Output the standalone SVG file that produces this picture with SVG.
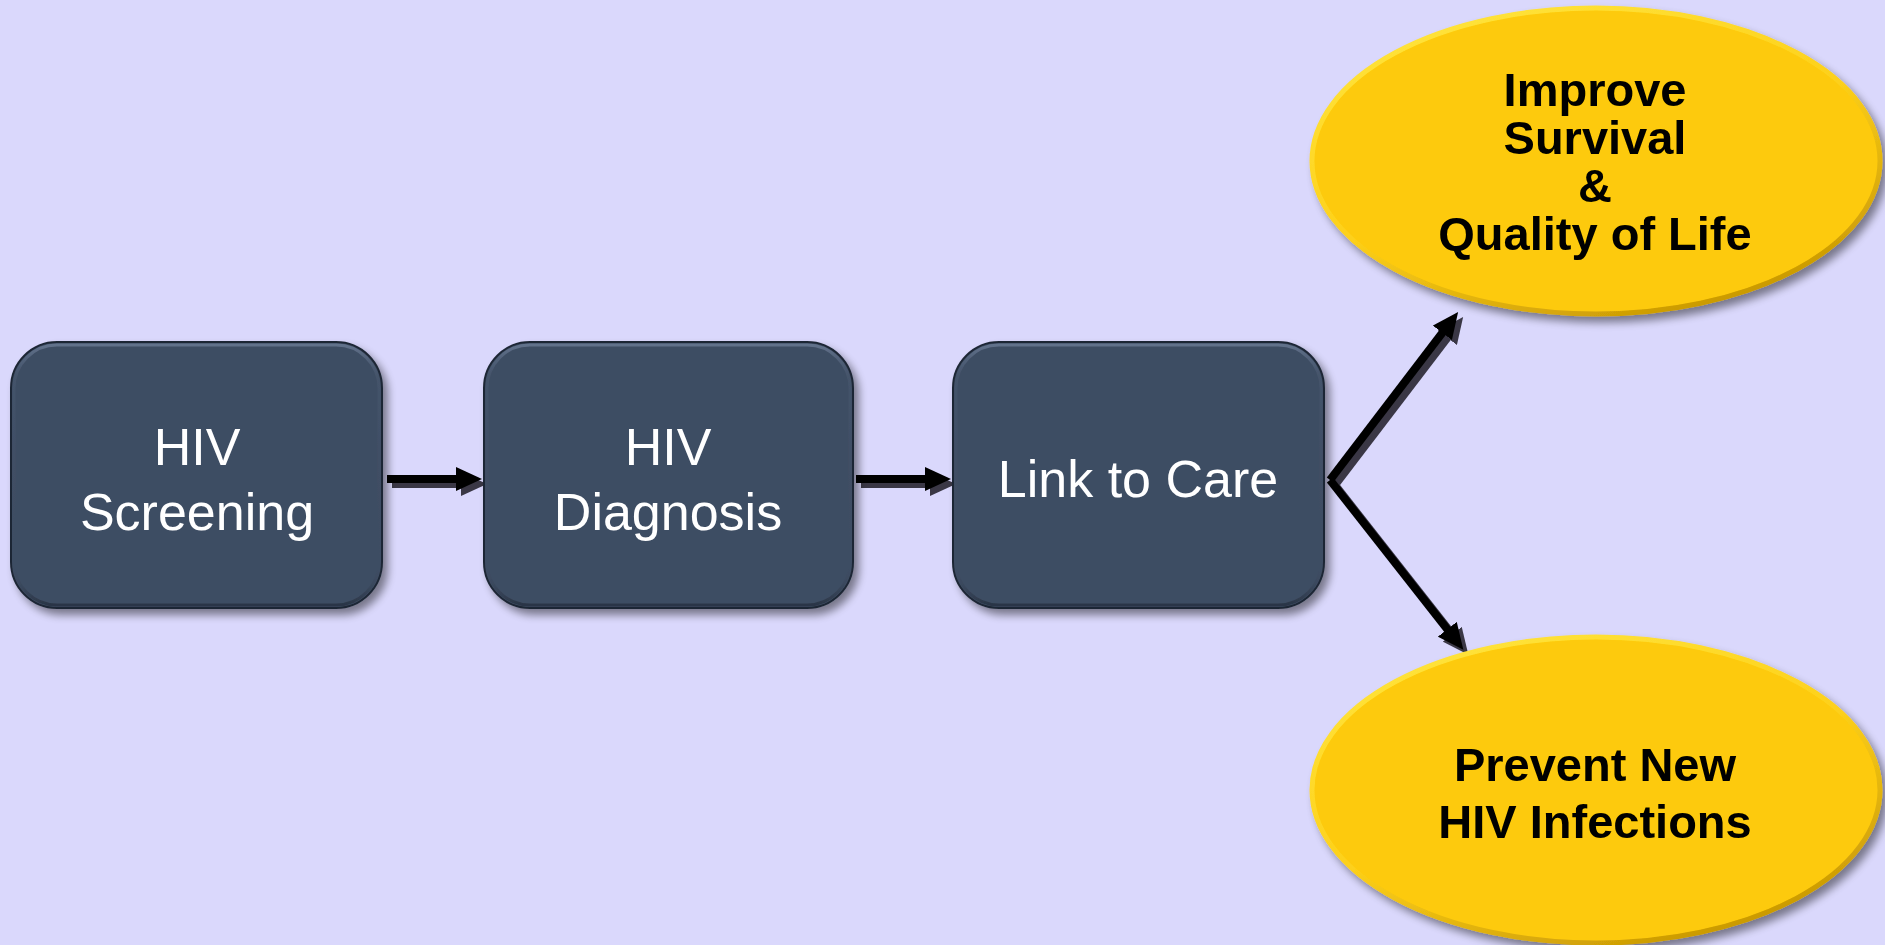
<svg xmlns="http://www.w3.org/2000/svg" width="1885" height="945" viewBox="0 0 1885 945">
<defs>
<style>
.box{fill:#3e4d63;stroke:#1f2836;stroke-width:2}
.bevel{fill:none;stroke:url(#bevelG);stroke-width:3}
.boxtxt{font-family:"Liberation Sans",Arial,sans-serif;font-size:52px;fill:#ffffff;text-anchor:middle}
.ell{fill:#fdca08;stroke:url(#ellG);stroke-width:5}
.elltxt{font-family:"Liberation Sans",Arial,sans-serif;font-size:47px;font-weight:bold;fill:#000000;text-anchor:middle}
.conn{stroke:#000000;stroke-width:8;fill:none;marker-end:url(#ah)}
.connsh{stroke:#3a3745;stroke-width:8;fill:none;marker-end:url(#ahs)}
</style>
<linearGradient id="bevelG" x1="0" y1="0" x2="0" y2="1">
<stop offset="0" stop-color="#62728b"/>
<stop offset="0.12" stop-color="#4a5a72" stop-opacity="0.5"/>
<stop offset="0.85" stop-color="#3e4d63" stop-opacity="0"/>
<stop offset="1" stop-color="#2a3546"/>
</linearGradient>
<linearGradient id="ellG" x1="0.2" y1="0" x2="0.8" y2="1">
<stop offset="0" stop-color="#ffe43c"/>
<stop offset="0.5" stop-color="#fdd01a"/>
<stop offset="1" stop-color="#c39200"/>
</linearGradient>
<filter id="sh" x="-10%" y="-10%" width="130%" height="130%">
<feGaussianBlur in="SourceAlpha" stdDeviation="4"/>
<feOffset dx="5" dy="6"/>
<feComponentTransfer><feFuncA type="linear" slope="0.45"/></feComponentTransfer>
<feMerge><feMergeNode/><feMergeNode in="SourceGraphic"/></feMerge>
</filter>
<marker id="ah" markerUnits="userSpaceOnUse" markerWidth="26" markerHeight="24" refX="6" refY="12" orient="auto">
<path d="M0,0 L26,12 L0,24 z" fill="#000000"/>
</marker>
<marker id="ahs" markerUnits="userSpaceOnUse" markerWidth="26" markerHeight="24" refX="6" refY="12" orient="auto">
<path d="M0,0 L26,12 L0,24 z" fill="#3a3745"/>
</marker>
</defs>
<rect x="0" y="0" width="1885" height="945" fill="#dad8fc"/>

<g id="connectors">
<g transform="translate(5,5)">
<line class="connsh" x1="387" y1="479" x2="462" y2="479"/>
<line class="connsh" x1="856" y1="479" x2="931" y2="479"/>
<line class="connsh" x1="1330" y1="480" x2="1446" y2="328"/>
<line class="connsh" x1="1330" y1="480" x2="1451" y2="634"/>
</g>
<line class="conn" x1="387" y1="479" x2="462" y2="479"/>
<line class="conn" x1="856" y1="479" x2="931" y2="479"/>
<line class="conn" x1="1330" y1="480" x2="1446" y2="328"/>
<line class="conn" x1="1330" y1="480" x2="1451" y2="634"/>
</g>

<g id="node-screening" filter="url(#sh)">
<rect class="box" x="11" y="342" width="371" height="266" rx="46"/>
<rect class="bevel" x="14" y="345" width="365" height="260" rx="43"/>
<text class="boxtxt" x="197" y="465">HIV</text>
<text class="boxtxt" x="197" y="530">Screening</text>
</g>

<g id="node-diagnosis" filter="url(#sh)">
<rect class="box" x="484" y="342" width="369" height="266" rx="46"/>
<rect class="bevel" x="487" y="345" width="363" height="260" rx="43"/>
<text class="boxtxt" x="668" y="465">HIV</text>
<text class="boxtxt" x="668" y="530">Diagnosis</text>
</g>

<g id="node-link" filter="url(#sh)">
<rect class="box" x="953" y="342" width="371" height="266" rx="46"/>
<rect class="bevel" x="956" y="345" width="365" height="260" rx="43"/>
<text class="boxtxt" x="1138" y="497">Link to Care</text>
</g>

<g id="node-survival" filter="url(#sh)">
<ellipse class="ell" cx="1596" cy="161" rx="284" ry="153"/>
<text class="elltxt" x="1595" y="106">Improve</text>
<text class="elltxt" x="1595" y="154">Survival</text>
<text class="elltxt" x="1595" y="202">&amp;</text>
<text class="elltxt" x="1595" y="250">Quality of Life</text>
</g>

<g id="node-prevent" filter="url(#sh)">
<ellipse class="ell" cx="1596" cy="790" rx="284" ry="153"/>
<text class="elltxt" x="1595" y="781">Prevent New</text>
<text class="elltxt" x="1595" y="838">HIV Infections</text>
</g>
</svg>
